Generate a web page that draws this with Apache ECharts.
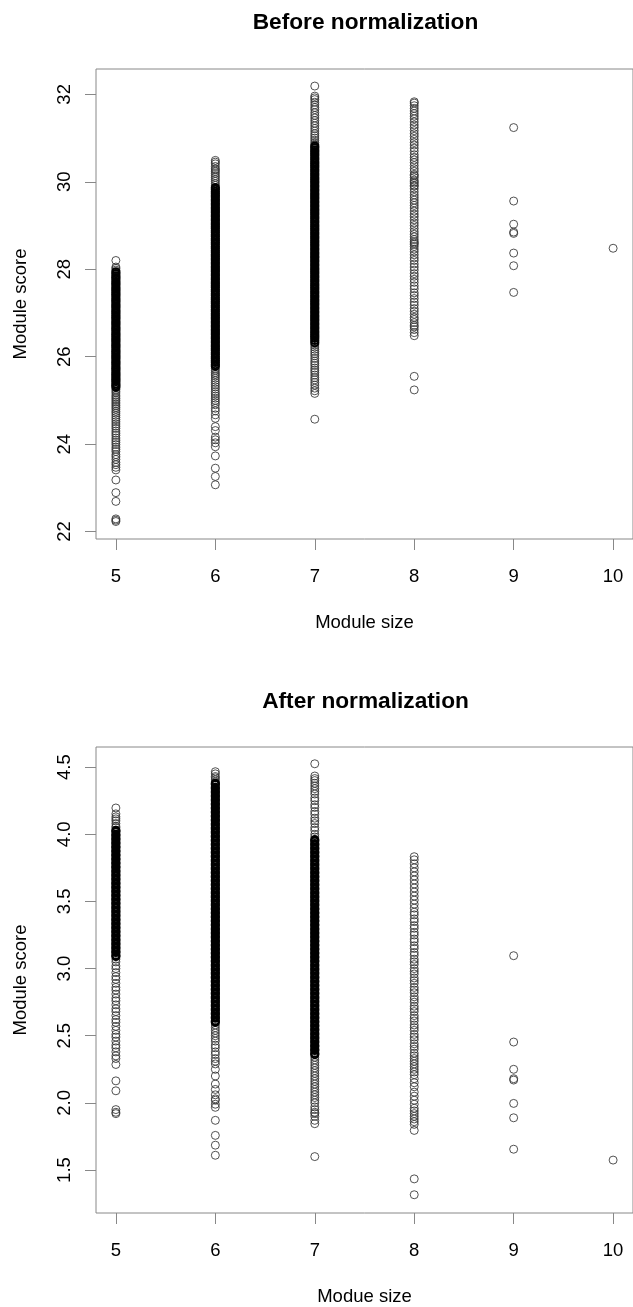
<!DOCTYPE html>
<html><head><meta charset="utf-8">
<script src="https://cdn.jsdelivr.net/npm/echarts@6/dist/echarts.min.js"></script>
<style>html,body{margin:0;padding:0;background:#fff}#c{width:633px;height:1307px}</style>
</head><body><div id="c"></div>
<script>
const xTicks = [5, 6, 7, 8, 9, 10];
const beforeTicks = [22, 24, 26, 28, 30, 32];
const afterTicks = [1.5, 2.0, 2.5, 3.0, 3.5, 4.0, 4.5];
const titles = ['Before normalization', 'After normalization'];
const xNames = ['Module size', 'Modue size'];
const yName = 'Module score';

// Before normalization: module scores per module size.
// "...Band" arrays hold the heavily overplotted core of a column.
const before5 = [22.23,22.26,22.29,22.69,22.89,23.18,23.41,23.47,23.53,23.58,23.65,23.71,23.76,23.83,23.88,23.93,23.99,24.04,24.09,24.14,24.2,24.25,24.3,24.36,24.41,24.46,24.51,24.56,24.61,24.66,24.71,24.75,24.8,24.84,24.88,24.92,24.96,25.0,25.04,25.08,25.12,25.17,25.21,25.25,27.98,28.02,28.05,28.2];
const before5Band = [25.3,25.34,25.38,25.43,25.47,25.51,25.56,25.6,25.64,25.69,25.73,25.77,25.82,25.86,25.9,25.95,25.99,26.03,26.08,26.12,26.16,26.21,26.25,26.29,26.34,26.38,26.42,26.47,26.51,26.55,26.6,26.64,26.68,26.73,26.77,26.81,26.86,26.9,26.94,26.99,27.03,27.07,27.12,27.16,27.2,27.25,27.29,27.33,27.38,27.42,27.46,27.51,27.55,27.59,27.64,27.68,27.72,27.77,27.81,27.85,27.9,27.94];
const before6 = [23.07,23.26,23.45,23.73,23.94,24.03,24.1,24.16,24.31,24.4,24.59,24.67,24.76,24.82,24.9,24.95,25.0,25.05,25.1,25.15,25.2,25.26,25.31,25.36,25.41,25.46,25.51,25.56,25.6,25.64,25.69,25.73,29.92,29.96,30.01,30.05,30.1,30.14,30.19,30.23,30.27,30.3,30.35,30.41,30.45,30.49];
const before6Band = [25.78,25.82,25.87,25.91,25.96,26.0,26.05,26.09,26.14,26.18,26.23,26.27,26.32,26.36,26.41,26.45,26.5,26.54,26.59,26.63,26.68,26.72,26.77,26.81,26.86,26.9,26.95,26.99,27.04,27.08,27.13,27.17,27.22,27.26,27.31,27.35,27.4,27.44,27.49,27.53,27.58,27.62,27.67,27.71,27.76,27.8,27.85,27.89,27.94,27.98,28.03,28.07,28.12,28.16,28.21,28.25,28.3,28.34,28.39,28.43,28.48,28.52,28.57,28.61,28.66,28.7,28.75,28.79,28.84,28.88,28.93,28.97,29.02,29.06,29.11,29.15,29.2,29.24,29.29,29.33,29.38,29.42,29.47,29.51,29.56,29.6,29.65,29.69,29.74,29.78,29.83,29.87];
const before7 = [24.57,25.16,25.22,25.28,25.35,25.41,25.47,25.52,25.58,25.64,25.69,25.74,25.8,25.85,25.9,25.96,26.02,26.07,26.12,26.17,26.22,26.27,30.86,30.9,30.95,31.0,31.05,31.1,31.16,31.22,31.28,31.34,31.4,31.46,31.52,31.58,31.65,31.7,31.76,31.82,31.88,31.92,31.96,32.19];
const before7Band = [26.32,26.37,26.42,26.46,26.5,26.55,26.59,26.64,26.68,26.73,26.77,26.82,26.86,26.91,26.95,27.0,27.04,27.09,27.13,27.18,27.22,27.27,27.31,27.36,27.4,27.45,27.49,27.54,27.58,27.63,27.67,27.72,27.76,27.81,27.85,27.9,27.94,27.99,28.03,28.08,28.12,28.17,28.21,28.26,28.3,28.35,28.39,28.44,28.48,28.53,28.57,28.62,28.66,28.71,28.75,28.8,28.84,28.89,28.93,28.98,29.02,29.07,29.11,29.16,29.2,29.25,29.29,29.34,29.38,29.43,29.47,29.52,29.56,29.61,29.65,29.7,29.74,29.79,29.83,29.88,29.92,29.97,30.01,30.06,30.1,30.15,30.19,30.24,30.28,30.33,30.37,30.42,30.46,30.51,30.55,30.6,30.64,30.69,30.73,30.78,30.82];
const before8 = [25.24,25.55,26.48,26.55,26.62,26.68,26.72,26.78,26.85,26.9,26.97,27.04,27.1,27.18,27.25,27.33,27.4,27.46,27.55,27.62,27.7,27.77,27.84,27.9,27.98,28.05,28.12,28.2,28.26,28.33,28.4,28.46,28.52,28.57,28.6,28.63,28.68,28.74,28.8,28.86,28.93,29.0,29.06,29.13,29.2,29.26,29.33,29.4,29.46,29.52,29.58,29.64,29.7,29.77,29.84,29.9,29.92,29.97,30.0,30.04,30.1,30.14,30.17,30.24,30.3,30.37,30.44,30.5,30.56,30.62,30.7,30.77,30.84,30.9,30.97,31.04,31.1,31.17,31.24,31.3,31.37,31.44,31.5,31.56,31.62,31.68,31.74,31.8,31.83];
const before9 = [27.47,28.08,28.37,28.82,28.85,29.03,29.56,31.24];
const before10 = [28.48];

// After normalization
const after5 = [1.92,1.93,1.95,2.09,2.164,2.286,2.33,2.35,2.38,2.41,2.43,2.46,2.49,2.51,2.54,2.57,2.6,2.62,2.65,2.68,2.7,2.73,2.76,2.78,2.81,2.84,2.86,2.89,2.92,2.94,2.97,3.0,3.02,3.05,3.07,4.05,4.06,4.08,4.1,4.115,4.13,4.152,4.196];
const after5Band = [3.09,3.1,3.12,3.13,3.15,3.16,3.18,3.19,3.21,3.22,3.24,3.25,3.27,3.28,3.3,3.31,3.33,3.34,3.36,3.37,3.39,3.4,3.42,3.43,3.45,3.46,3.48,3.49,3.51,3.52,3.54,3.55,3.57,3.58,3.6,3.61,3.63,3.64,3.66,3.67,3.69,3.7,3.72,3.73,3.75,3.76,3.78,3.79,3.81,3.82,3.84,3.85,3.87,3.88,3.9,3.91,3.93,3.94,3.96,3.97,3.99,4.0,4.02,4.03];
const after6 = [1.61,1.685,1.758,1.87,1.967,1.99,2.02,2.03,2.06,2.1,2.14,2.2,2.25,2.29,2.31,2.33,2.36,2.38,2.41,2.43,2.46,2.48,2.5,2.52,2.54,2.56,2.58,4.39,4.405,4.42,4.43,4.45,4.466];
const after6Band = [2.6,2.61,2.63,2.64,2.66,2.67,2.69,2.7,2.72,2.73,2.75,2.76,2.78,2.79,2.81,2.82,2.84,2.85,2.87,2.88,2.9,2.91,2.93,2.94,2.96,2.97,2.99,3.0,3.02,3.03,3.05,3.06,3.08,3.09,3.11,3.12,3.14,3.15,3.17,3.18,3.2,3.21,3.23,3.24,3.26,3.27,3.29,3.3,3.32,3.33,3.35,3.36,3.38,3.39,3.41,3.42,3.44,3.45,3.47,3.48,3.5,3.51,3.53,3.54,3.56,3.57,3.59,3.6,3.62,3.63,3.65,3.66,3.68,3.69,3.71,3.72,3.74,3.75,3.77,3.78,3.8,3.81,3.83,3.84,3.86,3.87,3.89,3.9,3.92,3.93,3.95,3.96,3.98,3.99,4.01,4.02,4.04,4.05,4.07,4.08,4.1,4.11,4.13,4.14,4.16,4.17,4.19,4.2,4.22,4.23,4.25,4.26,4.28,4.29,4.31,4.32,4.34,4.35,4.37,4.38];
const after7 = [1.6,1.845,1.87,1.9,1.92,1.93,1.95,1.97,2.0,2.02,2.04,2.06,2.08,2.1,2.12,2.14,2.16,2.18,2.2,2.22,2.24,2.26,2.28,2.3,2.32,2.34,3.98,4.0,4.03,4.05,4.08,4.1,4.12,4.15,4.17,4.2,4.22,4.25,4.27,4.3,4.32,4.34,4.36,4.38,4.4,4.415,4.434,4.525];
const after7Band = [2.36,2.37,2.39,2.4,2.42,2.43,2.45,2.46,2.48,2.49,2.51,2.52,2.54,2.55,2.57,2.58,2.6,2.61,2.63,2.64,2.66,2.67,2.69,2.7,2.72,2.73,2.75,2.76,2.78,2.79,2.81,2.82,2.84,2.85,2.87,2.88,2.9,2.91,2.93,2.94,2.96,2.97,2.99,3.0,3.02,3.03,3.05,3.06,3.08,3.09,3.11,3.12,3.14,3.15,3.17,3.18,3.2,3.21,3.23,3.24,3.26,3.27,3.29,3.3,3.32,3.33,3.35,3.36,3.38,3.39,3.41,3.42,3.44,3.45,3.47,3.48,3.5,3.51,3.53,3.54,3.56,3.57,3.59,3.6,3.62,3.63,3.65,3.66,3.68,3.69,3.71,3.72,3.74,3.75,3.77,3.78,3.8,3.81,3.83,3.84,3.86,3.87,3.89,3.9,3.92,3.93,3.95,3.96];
const after8 = [1.316,1.434,1.795,1.84,1.86,1.88,1.9,1.92,1.94,1.96,1.99,2.02,2.05,2.08,2.12,2.15,2.18,2.21,2.23,2.25,2.27,2.29,2.31,2.33,2.35,2.37,2.4,2.42,2.44,2.47,2.49,2.51,2.54,2.56,2.58,2.61,2.63,2.65,2.68,2.7,2.72,2.75,2.77,2.79,2.82,2.84,2.86,2.89,2.91,2.93,2.96,2.98,3.0,3.03,3.05,3.07,3.1,3.12,3.15,3.17,3.2,3.22,3.25,3.27,3.3,3.32,3.35,3.37,3.4,3.42,3.45,3.48,3.51,3.54,3.57,3.6,3.63,3.66,3.69,3.72,3.75,3.78,3.81,3.833];
const after9 = [1.655,1.889,1.996,2.17,2.18,2.25,2.453,3.096];
const after10 = [1.574];

const beforeCols = [[5,before5],[6,before6],[7,before7],[8,before8],[9,before9],[10,before10]];
const beforeBands = [[5,before5Band],[6,before6Band],[7,before7Band]];
const afterCols = [[5,after5],[6,after6],[7,after7],[8,after8],[9,after9],[10,after10]];
const afterBands = [[5,after5Band],[6,after6Band],[7,after7Band]];
const toPts = cols => cols.flatMap(([x, arr]) => arr.map(v => [x, v]));

const FONT = '"Liberation Sans", Arial, sans-serif';
const tickStyle = {lineStyle: {color: '#888', width: 1}, length: 11};
const grids = [
  {left: 96, top: 69, width: 540, height: 470},
  {left: 96, top: 747, width: 540, height: 470}
];
function xAx(i) {
  return {
    gridIndex: i, type: 'value', min: 4.8, max: 10.2,
    axisLine: {show: false}, splitLine: {show: false},
    axisTick: Object.assign({customValues: xTicks}, tickStyle),
    axisLabel: {customValues: xTicks, fontSize: 18.5, fontFamily: FONT, color: '#000', margin: 28},
    name: xNames[i], nameLocation: 'middle', nameGap: 74,
    nameTextStyle: {fontSize: 18.5, fontFamily: FONT, color: '#000'}
  };
}
function yAx(i, min, max, ticks, fmt) {
  return {
    gridIndex: i, type: 'value', min: min, max: max,
    axisLine: {show: false}, splitLine: {show: false},
    axisTick: Object.assign({customValues: ticks}, tickStyle),
    axisLabel: {customValues: ticks, rotate: 90, fontSize: 18.5, fontFamily: FONT, color: '#000', margin: 22, formatter: fmt},
    name: yName, nameLocation: 'middle', nameGap: 66, nameRotate: 90,
    nameTextStyle: {fontSize: 18.5, fontFamily: FONT, color: '#000'}
  };
}
const base = {type: 'scatter', symbol: 'circle', silent: true, animation: false, largeThreshold: 100000, progressive: 0};
const ring = Object.assign({symbolSize: 8, itemStyle: {color: 'rgba(0,0,0,0)', borderColor: '#333', borderWidth: 0.85, opacity: 1}}, base);
const band = Object.assign({symbolSize: 7.2, itemStyle: {color: 'rgba(0,0,0,0)', borderColor: '#000', borderWidth: 2, opacity: 1}}, base);
const chart = echarts.init(document.getElementById('c'), null, {renderer: 'canvas'});
chart.setOption({
  backgroundColor: '#fff',
  animation: false,
  grid: grids.map(g => Object.assign({show: true, borderColor: '#888', borderWidth: 1, backgroundColor: 'rgba(0,0,0,0)'}, g)),
  xAxis: [xAx(0), xAx(1)],
  yAxis: [
    yAx(0, 21.83, 32.58, beforeTicks, v => String(v)),
    yAx(1, 1.18, 4.65, afterTicks, v => v.toFixed(1))
  ],
  graphic: [
    {type: 'text', x: 365.5, y: 23, style: {text: titles[0], font: 'bold 22.7px ' + FONT, fill: '#000', textAlign: 'center', textVerticalAlign: 'middle'}},
    {type: 'text', x: 365.5, y: 702, style: {text: titles[1], font: 'bold 22.7px ' + FONT, fill: '#000', textAlign: 'center', textVerticalAlign: 'middle'}}
  ],
  series: [
    Object.assign({xAxisIndex: 0, yAxisIndex: 0, data: toPts(beforeCols)}, ring),
    Object.assign({xAxisIndex: 0, yAxisIndex: 0, data: toPts(beforeBands)}, band),
    Object.assign({xAxisIndex: 1, yAxisIndex: 1, data: toPts(afterCols)}, ring),
    Object.assign({xAxisIndex: 1, yAxisIndex: 1, data: toPts(afterBands)}, band)
  ]
});
</script></body></html>
